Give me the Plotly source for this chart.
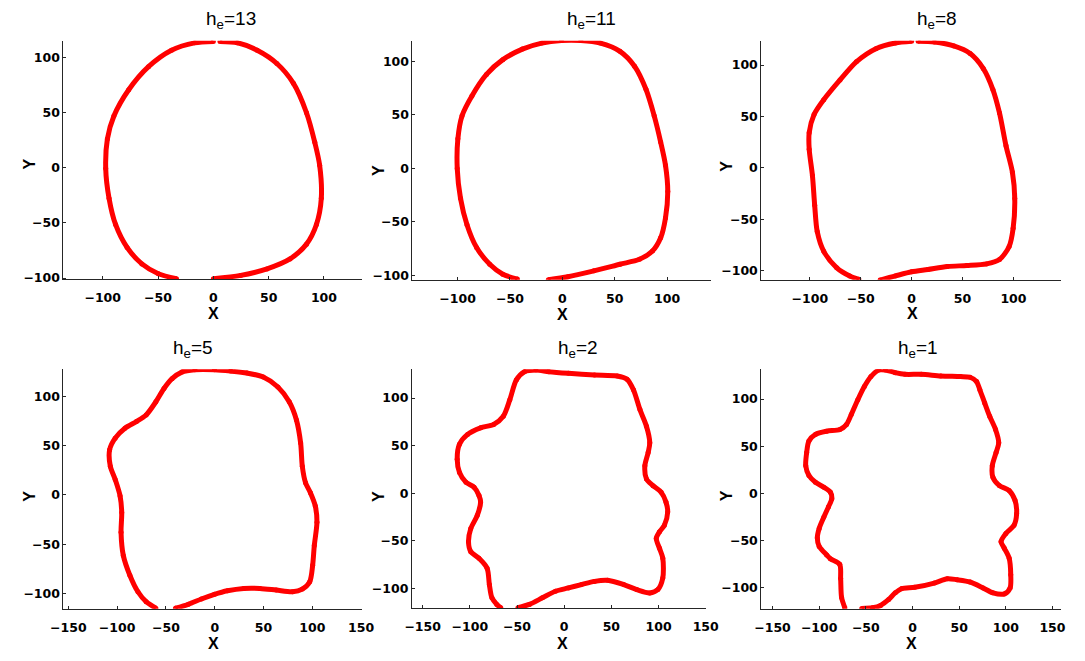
import plotly.graph_objects as go

W, H = 1085, 661

titles = ["13", "11", "8", "5", "2", "1"]

# h_e = 13
x13 = [0, 24.7, 48.5, 69.3, 84.2, 93.2, 97.6, 96.1, 91.7, 84.2, 72.3, 57.4, 39.6, 21.7, 6,
       None, 0, -17, -37.8, -58.6, -76.5, -89.9, -95.8, -97.3, -94.3, -88.4, -78, -64.6, -49.7, -33.3]
y13 = [-100.6, -97.6, -91.7, -82.7, -69.3, -51.5, -27.7, 2.1, 22.9, 49.7, 76.5, 94.3, 106.3, 113.1, 114.3,
       None, 114.3, 113, 106.3, 91.4, 70.5, 46.7, 25.9, -0.9, -27.7, -51.5, -72.3, -87.2, -96.1, -100.6]

# h_e = 11
x11 = [-13.4, 5.3, 30.1, 55, 73.6, 86, 93.8, 98.4, 100.6, 98.4, 93.8, 87.6, 79.8, 68.9, 55, 36.3, 17.7,
       -0.9, -19.6, -38.2, -56.8, -72.4, -86.3, -95.7, -99.7, -100.3, -97.2, -91, -81.7, -69.3, -56.8, -42.9]
y11 = [-104.3, -101.5, -96, -89.8, -85.2, -77.5, -65.1, -46.6, -21.9, 2.8, 24.4, 49.1, 73.8, 95.4, 109.3, 117, 119.4,
       119.4, 117, 111.4, 101.5, 87.7, 67.6, 49.1, 27.5, -0.3, -28.1, -52.8, -74.4, -89.8, -99.1, -103.7]

# h_e = 8
x8 = [-31, -16, 0, 16, 35.1, 54.3, 73.5, 86.3, 95.8, 99.7, 101.3, 99, 92.7, 86.3, 79.9, 70.3, 57.5, 41.5, 22.4, 6.4,
      None, 0, -16, -35.1, -54.3, -70.3, -86.3, -95.8, -100.6, -100.6, -97.4, -95.2, -92.7, -86.3, -73.5, -60.7, -51.8]
y8 = [-109, -105, -101, -98.7, -95.8, -94.9, -93.3, -89.1, -76.3, -58.7, -29.8, -4.2, 21.5, 53.5, 76, 96.8, 111.2, 118.6, 122.4, 123.1,
      None, 123.1, 121.5, 116, 103.2, 85.6, 66.3, 51.9, 34.3, 18.3, -7.4, -36.2, -61.9, -81.1, -97.1, -105.1, -108.3]

# h_e = 5
x5 = [-40.3, -27, -13.7, -0.3, 13, 29.7, 46.3, 63, 79.7, 89.7, 97.3, 100.3, 102, 104.7, 103, 98, 93, 89.7, 88,
      83.7, 76.3, 64.7, 49.7, 33, 16.3, -0.3, -20.3, -33.7, -43.7, -52, -60.3, -70.3, -80.3, -92, -102, -107.7,
      -107, -102, -97, -95.3, -96, -93.7, -87, -78.7, -70.3, -60.3]
y5 = [-114.9, -110.9, -105.5, -100.8, -97.2, -94.8, -94.8, -96.5, -98.2, -95.5, -88.1, -71.4, -51.3, -27.8, -11.1,
      2.3, 12.4, 29.1, 52.6, 76, 94.5, 109.5, 119.6, 123.6, 125.6, 127, 127, 124.6, 117.9, 107.9, 94.5, 81.1, 74.4,
      67.7, 57.6, 45.9, 29.1, 15.7, -1, -17.8, -37.9, -61.3, -81.4, -98.2, -108.2, -114.9]

# h_e = 2
x2 = [-49, -36.9, -23.1, -9.3, 4.5, 18.3, 32.1, 45.9, 63.1, 76.9, 90.7, 99.3, 104.5, 104.5, 101, 97.6, 101, 106.2,
      109.7, 107.9, 102.8, 94.1, 87.2, 85.5, 89, 90.7, 87.2, 80.3, 73.4, 66.6, 56.2, 32.1, 4.5, -16.2, -30, -42.1,
      -50.7, -57.6, -64.5, -74.8, -88.6, -102.4, -111, -113.4, -111, -104.1, -95.5, -90.3, -88.6, -92.1, -99,
      -101.4, -99, -90.3, -81.7, -79.3, -76.6, -71.4, -67.2]
y2 = [-120, -116.6, -109.7, -102.8, -99.3, -95.8, -92.4, -91.3, -95.8, -101, -104.5, -101, -88.9, -68.1, -57.7,
      -47.3, -40.4, -33.5, -19.6, -9.2, 1.2, 8.1, 15.1, 28.9, 42.8, 53.2, 70.5, 87.9, 108.7, 119.8, 123.2, 124.3,
      126, 127.7, 129.5, 127.7, 119.1, 98.3, 80.9, 72.3, 68.8, 61.9, 51.5, 35.9, 22, 11.6, 6.4, -2.3, -9.2, -23.1,
      -37, -50.8, -61.2, -68.1, -78.5, -95.8, -109.7, -116.6, -120]

# h_e = 1
x1 = [-54.4, -42.9, -34.2, -25.5, -18.5, -11.5, 2.4, 23.4, 37.3, 47.8, 61.7, 75.7, 86.2, 98.4, 104.6, 105.3,
      103.6, 98.4, 94.9, 100.1, 108.8, 111.6, 109.9, 103.6, 93.1, 86.2, 85.5, 89.6, 92.4, 89, 82.7, 77.4, 72.2,
      68.7, 61.7, 51.3, 30.3, 9.4, -8, -18.5, -29, -36, -44.6, -51.6, -58.6, -65.6, -70.8, -77.8, -92, -104,
      -111, -113.4, -114.4, -111, -104, -95, -88, -86.5, -90, -95, -100, -102, -100, -92, -88, -78, -77, -76, -72.5]
y1 = [-121.7, -121, -118.5, -112.2, -105.2, -100.7, -99.3, -94.8, -90.2, -91.3, -93.7, -100, -105.2, -106.3,
      -100, -86, -68.5, -58, -51, -42.3, -33.6, -21.3, -7.3, 3.1, 8.4, 17.1, 29.4, 43.4, 53.8, 67.8, 81.8, 95.8,
      109.8, 118.5, 123.1, 123.8, 124.5, 126.2, 126.2, 128, 130.8, 130.8, 123.8, 113.3, 99.3, 83.6, 73, 67.8, 66,
      62.6, 55.6, 43.4, 29.4, 19, 11.9, 6.6, 1.4, -5.6, -14, -25, -37, -47, -56, -65, -69, -75, -90, -110, -121]

curves = [(x13, y13), (x11, y11), (x8, y8), (x5, y5), (x2, y2), (x1, y1)]

# axes geometry in pixels: (x0, x1, y_top, y_bottom) and data ranges
px_boxes = [
    (51.7, 357.7, 41, 281.7), (409.3, 715.3, 41, 282.3), (766.7, 1073.3, 41, 282.3),
    (51.7, 357.7, 372.7, 614.3), (408.7, 710.3, 372.7, 614.0), (766.7, 1073.3, 372.7, 614.3),
]
xranges = [[-135.5, 134.5], [-143, 142], [-147.6, 146.3], [-155, 151], [-161.4, 150.6], [-162, 158.7]]
yranges = [[-101, 115], [-104.3, 119.3], [-108.7, 123.8], [-115.4, 127.4], [-120.8, 130.2], [-122, 131.5]]
xticks_top = [-100, -50, 0, 50, 100]
xticks_bot = [-150, -100, -50, 0, 50, 100, 150]
yticks = [-100, -50, 0, 50, 100]

title_left = [195.7, 566, 924, 162.3, 556, 905]
title_mid = [20, 20, 20, 352, 352, 352]
xlab_pos = [(205, 316.5), (563, 317), (921.3, 316), (205, 649), (563, 649), (920.7, 649)]
ylab_pos = [(17.3, 165), (373.7, 171.7), (730.7, 168), (16.7, 501), (373.7, 500.7), (730.7, 500.7)]

fig = go.Figure()
layout = dict(
    width=W, height=H, margin=dict(l=0, r=0, t=0, b=0),
    paper_bgcolor="white", plot_bgcolor="white", showlegend=False,
)
axcol = "#262626"
tickfont = dict(family="DejaVu Sans, Verdana, sans-serif", size=12.5, color="black", weight="bold")
annotations = []
for i, (cx, cy) in enumerate(curves):
    k = "" if i == 0 else str(i + 1)
    fig.add_trace(go.Scatter(
        x=cx, y=cy, xaxis="x" + k, yaxis="y" + k, mode="lines+markers",
        line=dict(color="#ff0000", width=5, shape="spline", smoothing=0.8),
        marker=dict(color="#ff0000", size=5),
        connectgaps=False, hoverinfo="skip",
    ))
    x0, x1p, yt, yb = px_boxes[i]
    layout["xaxis" + k] = dict(
        domain=[x0 / W, x1p / W], range=xranges[i], anchor="y" + k,
        showline=True, linecolor=axcol, linewidth=1, ticks="inside", ticklen=3, tickcolor=axcol,
        showgrid=False, zeroline=False, tickmode="array",
        tickvals=xticks_top if i < 3 else xticks_bot, tickfont=tickfont, ticklabelstandoff=7,
    )
    layout["yaxis" + k] = dict(
        domain=[1 - yb / H, 1 - yt / H], range=yranges[i], anchor="x" + k,
        showline=True, linecolor=axcol, linewidth=1, ticks="inside", ticklen=3, tickcolor=axcol,
        showgrid=False, zeroline=False, tickmode="array", tickvals=yticks, tickfont=tickfont,
        ticklabelstandoff=0,
    )
    annotations.append(dict(
        text="h<sub>e</sub>=" + titles[i], xref="paper", yref="paper",
        x=title_left[i] / W, y=1 - title_mid[i] / H, xanchor="left", yanchor="middle",
        showarrow=False, font=dict(family="Liberation Sans, Arial, sans-serif", size=19, color="black"),
    ))
    annotations.append(dict(
        text="X", xref="paper", yref="paper", x=xlab_pos[i][0] / W, y=1 - xlab_pos[i][1] / H,
        xanchor="center", yanchor="middle", showarrow=False,
        font=dict(family="Liberation Sans, Arial, sans-serif", size=16, color="black", weight="bold"),
    ))
    annotations.append(dict(
        text="Y", xref="paper", yref="paper", x=ylab_pos[i][0] / W, y=1 - ylab_pos[i][1] / H,
        xanchor="center", yanchor="middle", showarrow=False, textangle=-90,
        font=dict(family="Liberation Sans, Arial, sans-serif", size=16, color="black", weight="bold"),
    ))
layout["annotations"] = annotations
fig.update_layout(**layout)
fig.write_html("out.html")
